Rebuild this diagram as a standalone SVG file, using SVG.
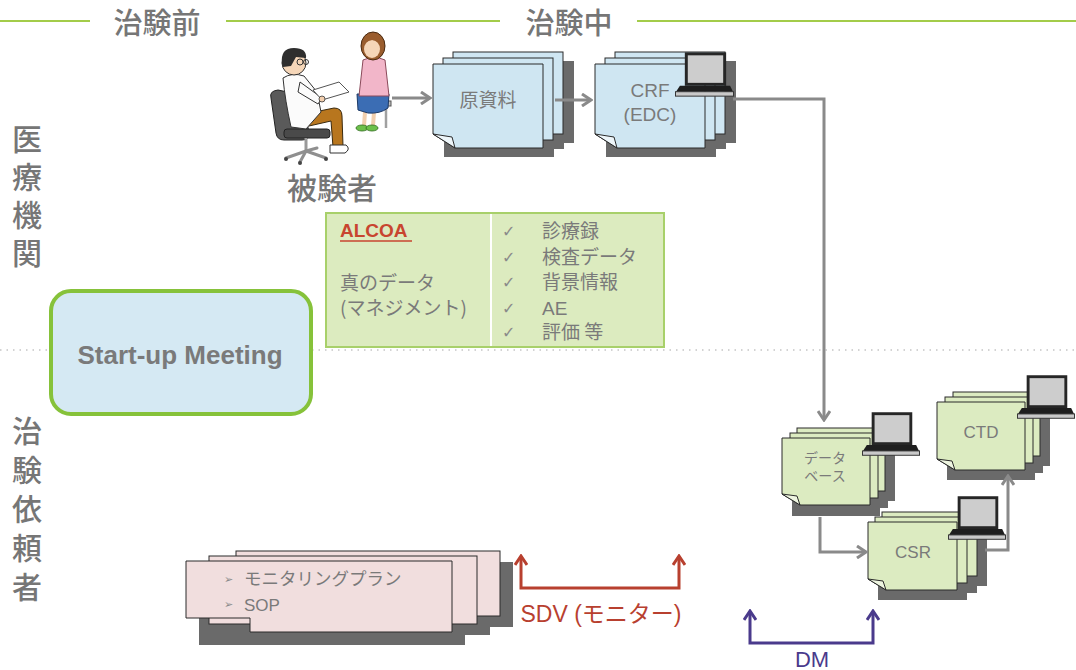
<svg xmlns="http://www.w3.org/2000/svg" width="1076" height="670" viewBox="0 0 1076 670">
  <style>
    .t { font-family: "Liberation Sans", "Noto Sans CJK JP", sans-serif; fill: #7a7a7a; }
    .jp { font-family: "Noto Sans CJK JP", "Liberation Sans", sans-serif; fill: #7a7a7a; }
    .big { font-weight: 500; fill: #767676; }
    .vert { writing-mode: vertical-rl; }
    .hdr { stroke: #a3cc4a; stroke-width: 2; }
    .sh { fill: #6a6a6a; }
    .pb { fill: #cfe6f2; stroke: #2b2b2b; stroke-width: 1; }
    .pg { fill: #dcebc1; stroke: #2b2b2b; stroke-width: 1; }
    .pp { fill: #f1dede; stroke: #2b2b2b; stroke-width: 1; }
    .fold { fill: #eef6fa; stroke: #2b2b2b; stroke-width: 1; }
    .foldg { fill: #eef5e0; stroke: #2b2b2b; stroke-width: 1; }
    .flow { fill: none; stroke: #8a8a8a; stroke-width: 3; }
    .sdv { fill: none; stroke: #b8402f; stroke-width: 3; }
    .dm { fill: none; stroke: #4a3a8c; stroke-width: 3; }
  </style>
  <defs>
    <marker id="ahGray" viewBox="0 0 12 14" refX="10" refY="7" markerWidth="12" markerHeight="14" markerUnits="userSpaceOnUse" orient="auto">
      <path d="M1,1 L10,7 L1,13" fill="none" stroke="#8a8a8a" stroke-width="3"/>
    </marker>
    <marker id="ahRed" viewBox="0 0 12 14" refX="10" refY="7" markerWidth="12" markerHeight="14" markerUnits="userSpaceOnUse" orient="auto-start-reverse">
      <path d="M1,1 L10,7 L1,13" fill="none" stroke="#b8402f" stroke-width="3"/>
    </marker>
    <marker id="ahPurple" viewBox="0 0 12 14" refX="10" refY="7" markerWidth="12" markerHeight="14" markerUnits="userSpaceOnUse" orient="auto-start-reverse">
      <path d="M1,1 L10,7 L1,13" fill="none" stroke="#4a3a8c" stroke-width="3"/>
    </marker>
    <symbol id="laptop" viewBox="0 0 60 45">
      <rect x="10" y="0" width="42" height="34" fill="#262626"/>
      <rect x="13" y="3" width="36" height="28" fill="#cdcdcd"/>
      <polygon points="5,34 56,34 59,40 1,40" fill="#1e1e1e"/>
      <rect x="0.5" y="40" width="59" height="4.5" fill="#c9c9c9" stroke="#333" stroke-width="1"/>
    </symbol>
  </defs>

  <!-- phase header -->
  <g id="header">
    <line class="hdr" x1="0" y1="21" x2="90" y2="21"/>
    <line class="hdr" x1="226" y1="21" x2="500" y2="21"/>
    <line class="hdr" x1="637" y1="21" x2="1076" y2="21"/>
    <text class="jp big" x="157" y="34" font-size="29" text-anchor="middle">治験前</text>
    <text class="jp big" x="569" y="34" font-size="29" text-anchor="middle">治験中</text>
  </g>

  <!-- swimlane divider and lane titles -->
  <line x1="0" y1="350" x2="1076" y2="350" stroke="#a8a8a8" stroke-width="1.2" stroke-dasharray="1.5 5"/>
  <text id="lane-site" class="jp big vert" x="27" y="124" font-size="30" letter-spacing="8">医療機関</text>
  <text id="lane-sponsor" class="jp big vert" x="27" y="416" font-size="30" letter-spacing="9">治験依頼者</text>

  <!-- start-up meeting -->
  <g id="startup">
    <rect x="51" y="291" width="260" height="123" rx="20" fill="#d5e9f3" stroke="#86c23a" stroke-width="4"/>
    <text class="t" x="180" y="364" font-size="26" font-weight="bold" text-anchor="middle">Start-up Meeting</text>
  </g>

  <!-- subject visit illustration -->
  <g id="subject">
    <!-- doctor chair -->
    <path d="M271,98 Q269,91 278,90 L297,94 Q303,96 304,105 L309,133 Q310,140 302,140 L284,140 Q277,140 276,133 Z" fill="#5a5a5a" stroke="#222" stroke-width="1"/>
    <rect x="284" y="129" width="46" height="9" rx="3" fill="#4a4a4a" stroke="#222" stroke-width="1"/>
    <line x1="306" y1="138" x2="306" y2="151" stroke="#999" stroke-width="3"/>
    <g stroke="#8f8f8f" stroke-width="3" stroke-linecap="round">
      <line x1="306" y1="151" x2="286" y2="158"/>
      <line x1="306" y1="151" x2="326" y2="158"/>
      <line x1="306" y1="151" x2="300" y2="162"/>
      <line x1="306" y1="151" x2="317" y2="148"/>
    </g>
    <g fill="#444">
      <circle cx="286" cy="159" r="2"/>
      <circle cx="326" cy="159" r="2"/>
      <circle cx="300" cy="163" r="2"/>
    </g>
    <!-- doctor legs -->
    <path d="M305,114 L334,108 Q342,108 342,116 L343,146 L333,147 L331,121 L309,126 Z" fill="#b8761e" stroke="#3a2a10" stroke-width="1"/>
    <path d="M330,145 L346,145 Q351,149 345,153 L330,153 Z" fill="#fff" stroke="#333" stroke-width="1"/>
    <!-- doctor coat -->
    <path d="M283,78 Q292,72 304,76 L317,92 L321,112 L306,129 L291,127 Q285,100 283,78 Z" fill="#fbfbfb" stroke="#333" stroke-width="1"/>
    <path d="M300,82 L322,98 L318,104 L298,92 Z" fill="#fbfbfb" stroke="#333" stroke-width="1"/>
    <!-- paper -->
    <polygon points="313,90 339,82 349,92 322,100" fill="#fff" stroke="#555" stroke-width="1"/>
    <circle cx="322" cy="99" r="3" fill="#f3cfae" stroke="#333" stroke-width="0.8"/>
    <!-- doctor head -->
    <circle cx="294" cy="63" r="12" fill="#f5d6b8" stroke="#333" stroke-width="1"/>
    <path d="M282,64 Q280,48 294,48 Q307,48 306,58 L296,57 L291,66 L283,67 Z" fill="#2e2e2e"/>
    <circle cx="300" cy="62" r="3" fill="none" stroke="#333" stroke-width="1"/>
    <circle cx="306" cy="62" r="2.5" fill="none" stroke="#333" stroke-width="1"/>
    <!-- girl stool -->
    <rect x="377" y="101" width="14" height="5" fill="#bdbdbd" stroke="#555" stroke-width="1"/>
    <line x1="386" y1="106" x2="386" y2="128" stroke="#a0a0a0" stroke-width="2.5"/>
    <!-- girl -->
    <path d="M365,112 L364,126 M374,112 L373,126" stroke="#f1cfae" stroke-width="4"/>
    <ellipse cx="362" cy="128" rx="6" ry="3" fill="#6cc04a" stroke="#2e6b1c" stroke-width="0.8"/>
    <ellipse cx="372" cy="128" rx="6" ry="3" fill="#6cc04a" stroke="#2e6b1c" stroke-width="0.8"/>
    <path d="M357,94 L389,94 L388,108 Q380,114 368,113 L358,110 Z" fill="#3b6db4" stroke="#1d3a66" stroke-width="1"/>
    <path d="M363,60 Q374,55 385,60 L389,96 L359,96 Z" fill="#f2b6c9" stroke="#8a4a5a" stroke-width="1"/>
    <ellipse cx="373" cy="46" rx="12" ry="14" fill="#9a5d2e" stroke="#4a2a10" stroke-width="1"/>
    <ellipse cx="372" cy="49" rx="8" ry="9" fill="#f5d6b8"/>
    <path d="M364,44 Q372,36 381,44 L381,40 Q373,32 364,40 Z" fill="#9a5d2e"/>
  </g>
  <text id="subject-label" class="jp big" x="332" y="199" font-size="30" text-anchor="middle">被験者</text>

  <!-- source documents -->
  <g id="source-docs">
    <rect class="sh" x="464" y="61" width="110" height="82"/>
    <rect class="sh" x="454" y="67" width="110" height="82"/>
    <rect class="sh" x="444" y="73" width="110" height="84"/>
    <rect class="pb" x="453" y="52" width="110" height="82"/>
    <rect class="pb" x="443" y="58" width="110" height="82"/>
    <path class="pb" d="M433,64 H543 V148 H455 L433,134 Z"/>
    <path class="fold" d="M433,134 L452,137 L455,148 Z"/>
    <text class="jp" x="488" y="107" font-size="19" text-anchor="middle">原資料</text>
  </g>

  <!-- CRF / EDC -->
  <g id="crf">
    <rect class="sh" x="626" y="61" width="110" height="82"/>
    <rect class="sh" x="616" y="67" width="110" height="82"/>
    <rect class="sh" x="606" y="73" width="110" height="84"/>
    <rect class="pb" x="615" y="52" width="110" height="82"/>
    <rect class="pb" x="605" y="58" width="110" height="82"/>
    <path class="pb" d="M595,64 H705 V148 H617 L595,134 Z"/>
    <path class="fold" d="M595,134 L614,137 L617,148 Z"/>
    <use href="#laptop" x="675" y="52" width="59" height="45"/>
    <text class="t" x="650" y="97" font-size="19" text-anchor="middle">CRF</text>
    <text class="t" x="650" y="121" font-size="19" text-anchor="middle">(EDC)</text>
  </g>

  <!-- ALCOA panel -->
  <g id="alcoa">
    <rect x="326" y="213" width="338" height="134" fill="#dcebbf" stroke="#a8d06a" stroke-width="2"/>
    <line x1="491" y1="214" x2="491" y2="346" stroke="#ffffff" stroke-width="2"/>
    <text x="340" y="237" font-family="Liberation Sans, sans-serif" font-size="19" font-weight="bold" fill="#c8452f">ALCOA</text>
    <line x1="340" y1="241" x2="412" y2="241" stroke="#c8452f" stroke-width="1.5"/>
    <text class="jp" x="340" y="290" font-size="19">真のデータ</text>
    <text class="jp" x="340" y="315" font-size="19">(マネジメント)</text>
    <g font-family="DejaVu Sans, sans-serif" font-size="16" fill="#8a8a8a">
      <text x="502" y="237">✓</text>
      <text x="502" y="263">✓</text>
      <text x="502" y="288">✓</text>
      <text x="502" y="314">✓</text>
      <text x="502" y="338">✓</text>
    </g>
    <text class="jp" x="542" y="238" font-size="19">診療録</text>
    <text class="jp" x="542" y="264" font-size="19">検査データ</text>
    <text class="jp" x="542" y="289" font-size="19">背景情報</text>
    <text class="t" x="542" y="315" font-size="19">AE</text>
    <text class="jp" x="542" y="339" font-size="19">評価 等</text>
  </g>

  <!-- data management outputs -->
  <g id="database">
    <rect class="sh" x="807" y="438" width="88" height="63"/>
    <rect class="sh" x="800" y="443" width="88" height="65"/>
    <rect class="sh" x="792" y="448" width="88" height="68"/>
    <rect class="pg" x="797" y="428" width="88" height="63"/>
    <rect class="pg" x="790" y="433" width="88" height="65"/>
    <path class="pg" d="M782,438 H870 V505 H800 L782,494 Z"/>
    <path class="foldg" d="M782,494 L797,496 L800,505 Z"/>
    <use href="#laptop" x="862" y="412" width="58" height="44"/>
    <text class="jp" x="825" y="463" font-size="14" text-anchor="middle">データ</text>
    <text class="jp" x="825" y="481" font-size="14" text-anchor="middle">ベース</text>
  </g>

  <g id="ctd">
    <rect class="sh" x="963" y="402" width="87" height="64"/>
    <rect class="sh" x="955" y="407" width="88" height="66"/>
    <rect class="sh" x="947" y="412" width="88" height="68"/>
    <rect class="pg" x="953" y="392" width="87" height="64"/>
    <rect class="pg" x="945" y="397" width="88" height="66"/>
    <path class="pg" d="M937,402 H1025 V470 H955 L937,459 Z"/>
    <path class="foldg" d="M937,459 L952,461 L955,470 Z"/>
    <use href="#laptop" x="1017" y="375" width="58" height="44"/>
    <text class="t" x="981" y="438" font-size="17" text-anchor="middle">CTD</text>
  </g>

  <g id="csr">
    <rect class="sh" x="892" y="522" width="95" height="64"/>
    <rect class="sh" x="885" y="527" width="92" height="66"/>
    <rect class="sh" x="878" y="532" width="89" height="68"/>
    <rect class="pg" x="882" y="512" width="95" height="64"/>
    <rect class="pg" x="875" y="517" width="92" height="66"/>
    <path class="pg" d="M868,522 H957 V590 H886 L868,579 Z"/>
    <path class="foldg" d="M868,579 L883,581 L886,590 Z"/>
    <use href="#laptop" x="948" y="496" width="58" height="44"/>
    <text class="t" x="913" y="558" font-size="17" text-anchor="middle">CSR</text>
  </g>

  <!-- monitoring plan / SOP -->
  <g id="monitoring-docs">
    <rect class="sh" x="249" y="562" width="264" height="65"/>
    <rect class="sh" x="222" y="567" width="268" height="68"/>
    <rect class="sh" x="199" y="572" width="266" height="73"/>
    <rect class="pp" x="236" y="551" width="264" height="65"/>
    <rect class="pp" x="209" y="556" width="268" height="68"/>
    <path class="pp" d="M186,561 H452 V632 H250 V618 H186 Z"/>
    <g font-family="DejaVu Sans, sans-serif" font-size="11" fill="#8a8a8a">
      <text x="224" y="583">➢</text>
      <text x="224" y="608">➢</text>
    </g>
    <text class="jp" x="244" y="585" font-size="17.5">モニタリングプラン</text>
    <text class="t" x="244" y="611" font-size="17">SOP</text>
  </g>

  <!-- connectors -->
  <g id="connectors">
    <line class="flow" x1="392" y1="98" x2="430" y2="98" marker-end="url(#ahGray)"/>
    <line class="flow" x1="555" y1="100" x2="591" y2="100" marker-end="url(#ahGray)"/>
    <polyline class="flow" points="733,99 824,99 824,420" marker-end="url(#ahGray)"/>
    <polyline class="flow" points="820,517 820,552 866,552" marker-end="url(#ahGray)"/>
    <polyline class="flow" points="985,550 1008,550 1008,476" marker-end="url(#ahGray)"/>
    <polyline class="sdv" points="521,556 521,588 679,588 679,556" marker-start="url(#ahRed)" marker-end="url(#ahRed)"/>
    <polyline class="dm" points="750,611 750,643 873,643 873,611" marker-start="url(#ahPurple)" marker-end="url(#ahPurple)"/>
  </g>
  <text id="sdv-label" x="601" y="622" font-family="Liberation Sans, 'Noto Sans CJK JP', sans-serif" font-size="23" fill="#b8402f" text-anchor="middle">SDV (モニター)</text>
  <text id="dm-label" x="812" y="667" font-family="Liberation Sans, sans-serif" font-size="22" fill="#4a3a8c" text-anchor="middle">DM</text>
</svg>
